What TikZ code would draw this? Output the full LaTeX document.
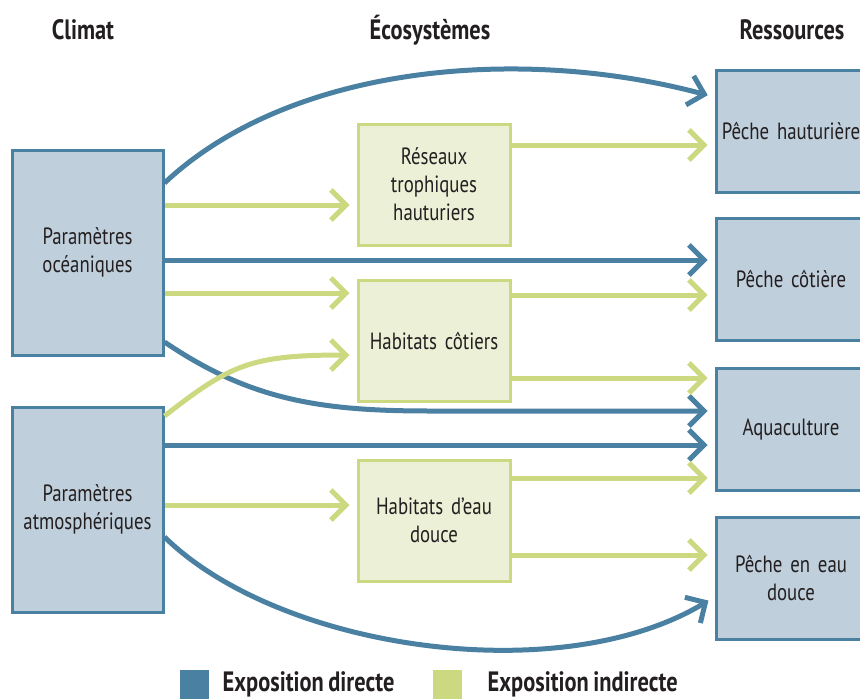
\documentclass[tikz,border=0pt]{standalone}
\usepackage{fontspec}
\setmainfont{PT Sans}[FakeStretch=0.8, WordSpace=0.8]
\usepackage{tikz}
\usepackage{xcolor}
\usetikzlibrary{arrows.meta,positioning}

\definecolor{dirblue}{RGB}{74,128,161}
\definecolor{dirfill}{RGB}{192,207,220}
\definecolor{indgreen}{RGB}{205,217,128}
\definecolor{indfill}{RGB}{235,240,214}
\definecolor{inktext}{RGB}{35,31,32}

\begin{document}
\begin{tikzpicture}[x=1pt, y=-1pt,
  climbox/.style={draw=dirblue, fill=dirfill, line width=3pt,
    minimum width=151pt, minimum height=205pt, inner sep=0pt,
    text width=148pt, align=center, text=inktext,
    font=\fontsize{23.5}{28}\selectfont},
  ecobox/.style={draw=indgreen, fill=indfill, line width=3pt,
    minimum width=152pt, minimum height=121pt, inner sep=0pt,
    text width=146pt, align=center, text=inktext,
    font=\fontsize{23.5}{28}\selectfont},
  resbox/.style={draw=dirblue, fill=dirfill, line width=3pt,
    minimum width=150pt, minimum height=122pt, inner sep=0pt,
    text width=148pt, align=center, text=inktext,
    font=\fontsize{23.5}{28}\selectfont},
  coltitle/.style={text=inktext, font=\fontsize{28}{32}\selectfont\bfseries},
  direct/.style={draw=dirblue, line width=5pt, shorten >=7pt,
    -{Straight Barb[length=15pt, width=30pt]}},
  indirect/.style={draw=indgreen, line width=5pt, shorten >=7pt,
    -{Straight Barb[length=15pt, width=30pt]}}]
  \useasboundingbox (0,0) rectangle (860,699);
  \clip (0,0) rectangle (860,699);

  % column titles
  \node[coltitle] (tclim) at (83,30)  {Climat};
  \node[coltitle] (teco)  at (430,30) {Écosystèmes};
  \node[coltitle] (tres)  at (792,30) {Ressources};

  % climate
  \node[climbox] (oce) at (87.5,252.5) {Paramètres\\océaniques};
  \node[climbox] (atm) at (87.5,509.5) {Paramètres\\atmosphériques};

  % ecosystems
  \node[ecobox] (reseaux) at (434,184.5) {Réseaux\\trophiques\\hauturiers};
  \node[ecobox] (cotiers) at (434,341)   {Habitats côtiers};
  \node[ecobox] (douce)   at (434,520.5) {Habitats d'eau\\douce};

  % resources
  \node[resbox] (haut) at (791,131)   {Pêche hauturière};
  \node[resbox] (cot)  at (791,279)   {Pêche côtière};
  \node[resbox] (aqua) at (791,429)   {Aquaculture};
  \node[resbox] (peau) at (791,578.5) {Pêche en eau\\douce};

  % direct exposure
  \draw[direct] (oce.east |- 0,183) .. controls (290,65) and (520,45) .. (haut.west |- 0,97);
  \draw[direct] (oce.east |- 0,260) -- (cot.west |- 0,260);
  \draw[direct] (oce.east |- 0,342) .. controls (250,400) and (320,411) .. (430,411)
    -- (aqua.west |- 0,411);
  \draw[direct] (atm.east |- 0,445) -- (aqua.west |- 0,445);
  \draw[direct] (atm.east |- 0,537) .. controls (280,650) and (560,690) .. (peau.west |- 0,597);

  % indirect exposure
  \draw[indirect] (oce.east |- 0,205) -- (reseaux.west |- 0,205);
  \draw[indirect] (oce.east |- 0,293) -- (cotiers.west |- 0,293);
  \draw[indirect] (atm.east |- 0,416) .. controls (230,365) and (250,355) .. (cotiers.west |- 0,355);
  \draw[indirect] (atm.east |- 0,505) -- (douce.west |- 0,505);
  \draw[indirect] (reseaux.east |- 0,145) -- (haut.west |- 0,145);
  \draw[indirect] (cotiers.east |- 0,295) -- (cot.west |- 0,295);
  \draw[indirect] (cotiers.east |- 0,378) -- (aqua.west |- 0,378);
  \draw[indirect] (douce.east |- 0,478) -- (aqua.west |- 0,478);
  \draw[indirect] (douce.east |- 0,555) -- (peau.west |- 0,555);

  % legend
  \node[fill=dirblue, minimum size=29pt, inner sep=0pt] (keyd) at (194.5,684) {};
  \node[coltitle, right=10pt of keyd] (keydtxt) {Exposition directe};
  \node[fill=indgreen, minimum size=29pt, inner sep=0pt] (keyi) at (447.5,684) {};
  \node[coltitle, right=22pt of keyi] (keyitxt) {Exposition indirecte};
\end{tikzpicture}
\end{document}
